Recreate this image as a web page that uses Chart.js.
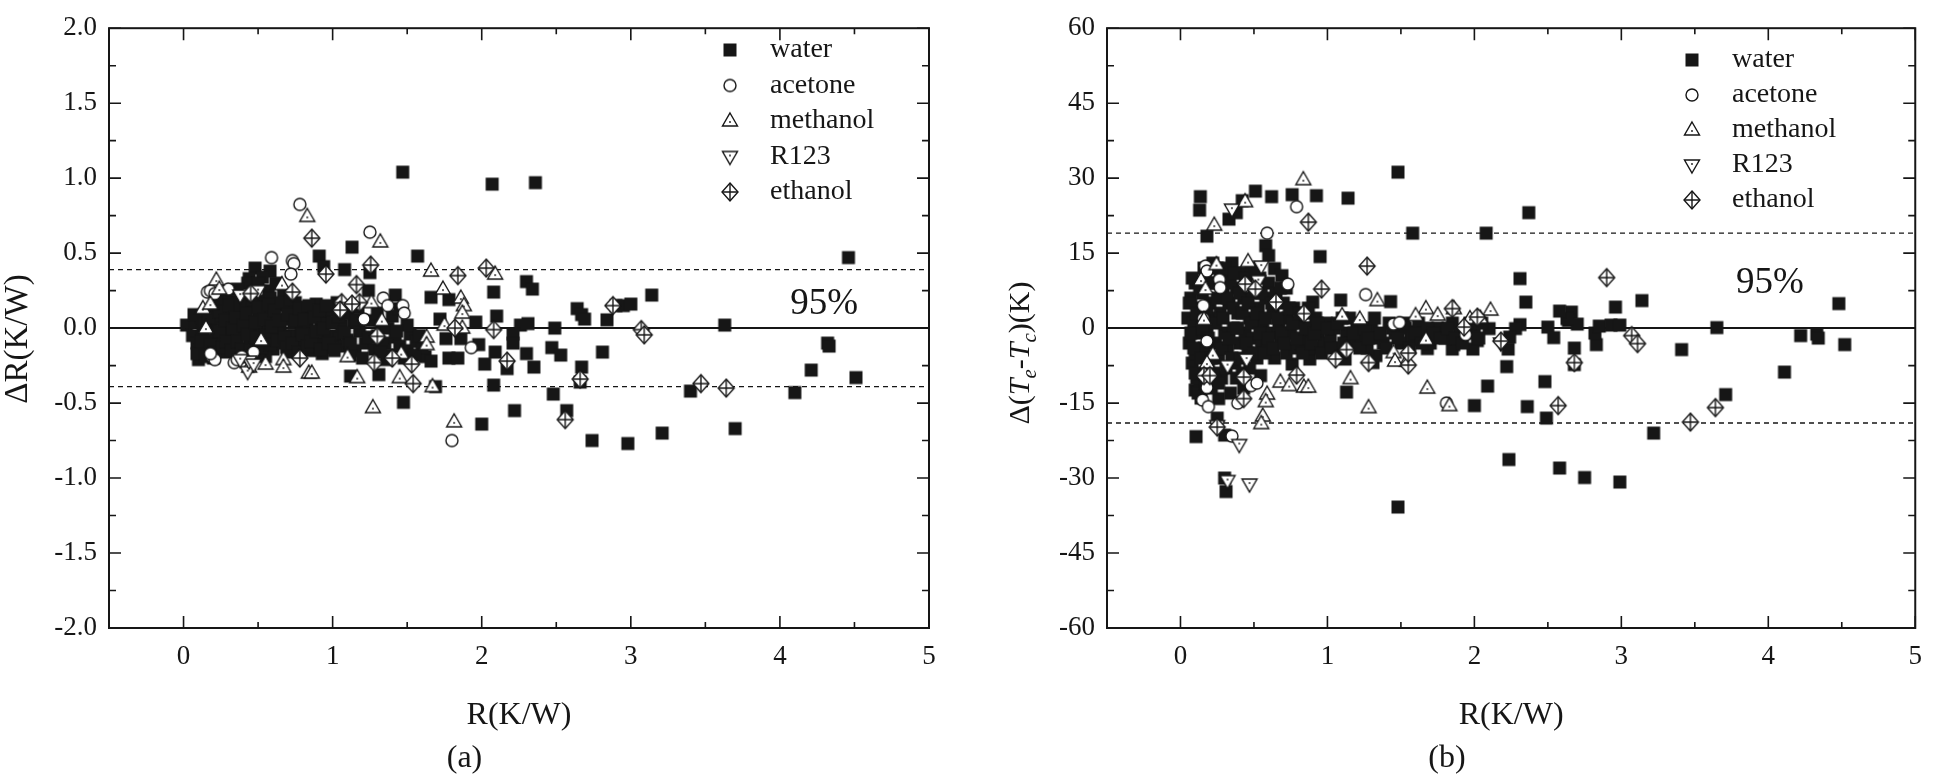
<!DOCTYPE html>
<html>
<head>
<meta charset="utf-8">
<script src="https://cdn.jsdelivr.net/npm/chart.js@4.4.1/dist/chart.umd.min.js"></script>
<style>
  html, body { margin: 0; padding: 0; background: #fff; }
  #wrap { position: relative; width: 1935px; height: 780px; }
  #wrap canvas { position: absolute; top: 0; }
</style>
</head>
<body>
<div id="wrap">
  <canvas id="chartA" width="968" height="780" style="left:0"></canvas>
  <canvas id="chartB" width="967" height="780" style="left:968px"></canvas>
</div>
<script>
const INK = '#161616';
const SERIF = "'Liberation Serif', 'Times New Roman', serif";

const seriesNames = ['water', 'acetone', 'methanol', 'R123', 'ethanol'];
const xTicks = [0, 1, 2, 3, 4, 5];
const yTicksA = [-2, -1.5, -1, -0.5, 0, 0.5, 1, 1.5, 2];
const yTicksB = [-60, -45, -30, -15, 0, 15, 30, 45, 60];
const bandA = 0.39;   // 95% limits, panel (a)
const bandB = 19;     // 95% limits, panel (b)

// ---- panel (a): delta R vs R ----
const waterA = [
  [1.47,1.04],[2.07,0.96],[2.36,0.97],[4.46,0.47],[1.13,0.54],[0.91,0.48],[1.57,0.48],
  [1.08,0.39],[0.94,0.41],[1.25,0.37],[0.48,0.40],[0.58,0.38],[0.53,0.34],[0.44,0.33],[0.57,0.25],
  [1.24,0.25],[1.42,0.22],[1.66,0.205],[1.78,0.19],[2.08,0.24],[2.30,0.31],[2.34,0.26],[3.14,0.22],
  [2.64,0.13],[2.67,0.09],[2.69,0.06],[2.84,0.055],[2.90,0.15],[2.95,0.15],[3.0,0.16],[2.10,0.08],
  [2.26,0.02],[2.31,0.03],[2.49,0.0],[3.63,0.02],[1.72,0.06],[1.96,0.04],[2.21,-0.04],[2.21,-0.10],
  [2.09,-0.16],[2.30,-0.17],[2.47,-0.13],[2.53,-0.18],[2.81,-0.16],[2.35,-0.26],[2.67,-0.26],[2.66,-0.36],
  [2.02,-0.24],[2.17,-0.27],[2.08,-0.38],[2.48,-0.44],[2.22,-0.55],[2.57,-0.55],[2.0,-0.64],[2.74,-0.75],
  [2.98,-0.77],[3.21,-0.70],[3.70,-0.67],[3.40,-0.42],[4.10,-0.43],[4.21,-0.28],[4.32,-0.10],[4.33,-0.12],
  [4.51,-0.33],[1.76,-0.07],[1.86,-0.07],[1.98,-0.11],[1.78,-0.20],[1.84,-0.20],[1.62,-0.19],[1.66,-0.22],
  [1.31,-0.31],[1.69,-0.39],[1.475,-0.495],[1.12,-0.32],
  [1.02,-0.05],[1.05,-0.12],[1.10,-0.08],[1.15,-0.15],[1.18,-0.02],[1.22,-0.10],[1.28,-0.14],[1.30,-0.05],
  [1.35,-0.10],[1.38,-0.18],[1.42,-0.06],[1.45,-0.12],[1.50,-0.15],[1.52,-0.04],[1.56,-0.09],[1.60,-0.13],
  [1.48,-0.20],[1.36,-0.21],[1.12,-0.18],[1.20,-0.20],[1.06,0.02],[1.14,0.04],[1.26,0.05],[1.33,0.02],
  [1.40,0.08],[1.50,0.02],[1.45,0.13],[1.30,0.10],[1.17,0.14],[1.10,0.10],[1.03,0.17],[1.55,-0.18],
  [0.02,0.02],[0.06,-0.05],[0.08,0.04],[0.09,-0.10],[0.10,-0.21],[0.11,-0.15],[0.12,0.08],[0.13,-0.02],
  [0.15,0.10],[0.16,-0.08],[0.18,0.02],[0.19,-0.14],[0.20,0.13],[0.22,-0.04],[0.23,0.06],[0.25,-0.10],
  [0.26,0.15],[0.27,0.00],[0.29,-0.16],[0.30,0.09],[0.31,-0.06],[0.33,0.18],[0.34,0.02],[0.35,-0.12],
  [0.37,0.12],[0.38,-0.03],[0.40,0.20],[0.41,0.05],[0.42,-0.15],[0.43,0.30],[0.44,-0.07],[0.45,0.14],
  [0.46,0.00],[0.47,0.24],[0.48,-0.11],[0.50,0.08],[0.51,-0.17],[0.52,0.18],[0.53,-0.02],[0.55,0.11],
  [0.56,-0.09],[0.57,0.04],[0.58,0.20],[0.60,-0.14],[0.61,0.07],[0.62,-0.04],[0.63,0.15],[0.65,0.00],
  [0.66,-0.10],[0.67,0.22],[0.69,0.06],[0.70,-0.16],[0.71,0.12],[0.72,-0.05],[0.74,0.03],[0.75,0.17],
  [0.76,-0.12],[0.78,0.08],[0.79,-0.02],[0.80,0.14],[0.82,-0.08],[0.83,0.04],[0.85,-0.15],[0.86,0.10],
  [0.87,-0.04],[0.89,0.16],[0.90,-0.10],[0.92,0.02],[0.93,-0.17],[0.95,0.08],[0.96,-0.06],[0.98,0.12],
  [0.99,-0.13],[0.36,0.26],[0.50,0.30],[0.62,0.30],[0.28,0.22],[0.55,-0.19],[0.88,-0.14],[0.40,-0.19],[0.20,-0.20],
  [0.07,0.09],[0.09,-0.17],[0.12,-0.09],[0.14,0.03],[0.15,-0.19],[0.17,0.07],[0.18,-0.11],[0.21,-0.16],
  [0.22,0.17],[0.24,-0.02],[0.24,0.11],[0.26,-0.13],[0.28,0.05],[0.29,-0.09],[0.31,0.15],[0.32,-0.15],
  [0.33,0.00],[0.35,0.07],[0.36,-0.09],[0.38,0.16],[0.39,-0.14],[0.40,0.02],[0.42,0.10],[0.43,-0.04],
  [0.45,-0.15],[0.46,0.19],[0.48,0.04],[0.49,-0.06],[0.50,0.14],[0.52,-0.13],[0.54,0.06],[0.55,-0.05],
  [0.57,0.16],[0.58,-0.11],[0.59,0.01],[0.61,0.12],[0.63,-0.08],[0.64,0.05],[0.66,0.17],[0.68,-0.06],
  [0.69,-0.13],[0.70,0.09],[0.72,0.19],[0.73,-0.10],[0.75,0.05],[0.77,-0.16],[0.78,0.13],[0.80,-0.04],
  [0.81,0.06],[0.83,-0.12],[0.84,0.15],[0.86,-0.09],[0.88,0.07],[0.89,-0.02],[0.91,0.12],[0.92,-0.14],
  [0.94,0.00],[0.96,0.15],[0.97,-0.10],[1.00,0.04],[1.01,-0.15],[1.04,0.08],[1.08,-0.03],[1.12,-0.10],
  [1.16,0.06],[1.24,-0.06],[1.32,-0.16],[1.37,0.00],[1.43,-0.02],[1.58,-0.05]
];
const acetoneA = [
  [0.78,0.825],[1.25,0.64],[0.59,0.47],[0.73,0.45],[0.74,0.43],[0.72,0.36],[1.80,-0.75],[1.93,-0.13],
  [1.34,0.20],[1.37,0.15],[1.47,0.15],[1.48,0.10],[1.21,0.06],[0.16,0.24],[0.18,0.25],[0.21,0.23],
  [0.19,-0.19],[0.21,-0.21],[0.18,-0.17],[0.34,-0.23],[0.36,-0.21],[0.39,-0.19],[0.47,-0.16],[0.30,0.26]
];
const methanolA = [
  [0.83,0.745],[1.32,0.575],[1.66,0.38],[2.09,0.36],[1.74,0.26],[1.86,0.20],[1.88,0.15],[1.87,0.10],
  [1.33,0.05],[1.75,0.02],[1.87,0.00],[1.26,0.17],[0.22,0.32],[0.24,0.26],[0.66,0.29],[0.13,0.13],
  [0.18,0.16],[0.15,0.00],[1.63,-0.06],[1.63,-0.11],[1.46,-0.17],[1.45,-0.33],[1.67,-0.39],[1.27,-0.53],
  [1.815,-0.625],[1.165,-0.33],[1.10,-0.19],[0.84,-0.30],[0.86,-0.30],[0.67,-0.21],[0.67,-0.26],[0.55,-0.24],
  [0.44,-0.26],[0.52,-0.08]
];
const r123A = [
  [0.43,-0.29],[0.44,-0.22],[0.47,-0.24],[0.50,0.25],[0.38,-0.21],[0.38,0.22]
];
const ethanolA = [
  [0.86,0.60],[2.03,0.40],[0.955,0.36],[1.255,0.42],[1.84,0.35],[1.16,0.29],[1.06,0.17],[1.05,0.12],
  [1.18,0.17],[1.13,0.16],[0.73,0.24],[0.45,0.23],[1.82,0.00],[2.08,-0.01],[3.07,-0.01],[3.09,-0.045],
  [2.17,-0.22],[1.53,-0.24],[1.54,-0.37],[1.28,-0.23],[1.40,-0.20],[1.30,-0.055],[0.78,-0.20],[2.66,-0.34],
  [3.47,-0.37],[3.64,-0.40],[2.56,-0.61],[2.88,0.15]
];

// ---- panel (b): delta (Te - Tc) vs R ----
const waterB = [
  [0.135,26.3],[0.13,23.6],[0.18,18.4],[0.33,21.8],[0.38,23.1],[0.42,25.5],[0.51,27.4],[0.62,26.3],
  [0.76,26.7],[0.925,26.5],[1.14,26.0],[1.48,31.2],[1.58,19.0],[2.08,19.0],[2.37,23.1],
  [0.58,16.5],[0.60,14.5],[0.64,11.9],[0.69,10.5],[0.72,8.0],[0.95,14.3],[1.43,5.3],[1.09,5.6],[0.90,5.2],
  [2.31,9.9],[2.35,5.2],[2.96,4.2],[3.14,5.5],[4.48,4.9],[3.65,0.1],[4.22,-1.5],[4.33,-1.2],[4.34,-2.0],
  [4.52,-3.3],[4.11,-8.8],[3.41,-4.3],[3.71,-13.3],[3.22,-21.0],[2.235,-26.3],[2.58,-28.0],[2.75,-29.9],
  [2.99,-30.8],[1.48,-35.8],[2.36,-15.7],[2.49,-18.0],[2.09,-11.6],[2.0,-15.5],[2.22,-7.7],[2.48,-10.7],
  [2.68,-4.0],[2.68,-7.3],[2.83,-3.3],[2.82,-1.0],[2.85,0.4],[2.93,0.6],[2.99,0.6],[2.66,3.2],[2.64,1.5],
  [2.70,0.8],[2.50,0.2],[2.54,-1.9],[2.23,-4.2],[2.31,0.7],[2.28,-0.1],[2.24,-1.8],[2.10,-0.1],[2.02,-2.5],
  [1.86,-3.3],[1.99,-4.2],[1.68,-4.1],[1.85,-4.2],[1.13,-12.8],[0.545,-9.5],[0.10,-12.4],[0.13,-11.0],
  [0.26,-14.1],[0.25,-18.0],[0.106,-21.7],[0.30,-21.4],[0.30,-30.0],[0.31,-32.7],[1.12,-6.2],[1.31,-6.9],
  [0.88,-6.2],[0.76,-7.2],[1.57,-0.7],[1.57,-2.3],[1.33,-5.5],[2.63,1.9],[2.58,3.4],
  [0.05,2],[0.06,-3],[0.07,6],[0.08,-7],[0.09,1],[0.10,9],[0.10,-5],[0.11,-10],[0.12,4],[0.13,-1],
  [0.14,-14],[0.15,7],[0.16,-4],[0.17,11],[0.18,0],[0.19,-8],[0.20,5],[0.21,-12],[0.22,2],[0.23,9],
  [0.24,-3],[0.25,12],[0.26,-6],[0.27,3],[0.28,-10],[0.29,7],[0.30,-1],[0.31,10],[0.32,-4],[0.33,5],
  [0.34,-13],[0.35,13],[0.36,0],[0.37,-7],[0.38,8],[0.39,3],[0.40,-3],[0.41,11],[0.42,-9],[0.43,6],
  [0.44,-1],[0.45,9],[0.46,-5],[0.47,2],[0.48,12],[0.49,-2],[0.50,7],[0.52,-6],[0.53,4],[0.54,10],
  [0.55,-3],[0.56,1],[0.58,6],[0.59,-4],[0.60,9],[0.61,-1],[0.63,3],[0.64,-6],[0.65,7],[0.67,0],
  [0.68,-3],[0.70,5],[0.72,-5],[0.73,2],[0.75,-1],[0.77,4],[0.78,-4],[0.80,1],[0.82,-3],[0.84,3],
  [0.86,-2],[0.88,0],[0.90,-4],[0.92,2],[0.94,-1],[0.97,-3],[0.99,1],[1.02,-2],[1.05,0],[1.08,-4],
  [1.10,2],[1.13,-1],[1.16,-3],[1.20,1],[1.23,-2],[1.27,-4],[1.30,0],[1.34,-2],[1.38,-3],[1.42,1],
  [1.46,-1],[1.50,-3],[1.53,0],[1.58,-2],[1.62,1],[1.66,-1],[1.70,-3],[1.75,0],[1.80,-2],[1.85,1],
  [1.90,-1],[1.95,0],[2.00,-1],[2.05,1],
  [0.06,5],[0.07,-1],[0.08,10],[0.09,-4],[0.10,-9],[0.11,3],[0.12,-13],[0.13,8],[0.14,-6],[0.15,0],
  [0.16,12],[0.17,-11],[0.18,4],[0.19,-2],[0.20,9],[0.21,-6],[0.22,13],[0.23,-9],[0.24,1],[0.25,6],
  [0.26,-11],[0.27,10],[0.28,-4],[0.29,2],[0.30,12],[0.31,-8],[0.32,6],[0.33,-2],[0.34,9],[0.35,-6],
  [0.36,4],[0.37,11],[0.38,-10],[0.39,0],[0.40,7],[0.41,-6],[0.42,3],[0.43,-12],[0.44,10],[0.45,-3],
  [0.46,5],[0.47,-8],[0.48,1],[0.50,-5],[0.51,11],[0.52,3],[0.54,-1],[0.55,7],[0.57,-5],[0.58,2],
  [0.60,-2],[0.62,5],[0.63,-4],[0.66,2],[0.68,8],[0.69,-1],[0.71,-3],[0.74,4],[0.76,1],[0.79,-2],
  [0.81,3],[0.83,-5],[0.85,0],[0.87,4],[0.89,-3],[0.91,-1],[0.93,1],[0.96,-5],[1.00,0],[1.03,-4],
  [1.07,1],[1.11,-3],[1.15,2],[1.18,-1],[1.22,-4],[1.25,0],[1.28,-2],[1.32,2],[1.36,-1],[1.40,-4],
  [1.44,0],[1.48,-2],[1.52,1],[1.56,-4],[1.60,-1],[1.64,-3],[1.68,0],[1.72,-1],[1.77,-2],[1.82,0],
  [1.87,-2],[1.92,-3],[1.97,1],[2.03,-2]
];
const acetoneB = [
  [0.79,24.3],[0.59,19.0],[0.17,12.4],[0.18,11.4],[0.265,9.7],[0.27,8.1],[0.155,4.5],[0.155,1.9],
  [0.18,-2.6],[0.73,8.8],[1.26,6.7],[1.45,0.8],[1.49,1.1],[1.94,-1.3],[1.81,-15.0],[0.48,-11.5],
  [0.52,-11.0],[0.39,-15.0],[0.15,-14.4],[0.19,-15.7],[0.18,-11.9],[0.35,-21.6]
];
const methanolB = [
  [0.836,29.7],[0.23,20.6],[0.44,25.3],[0.245,12.7],[0.46,13.3],[0.14,9.6],[0.17,7.8],[0.16,1.7],
  [0.22,-5.3],[0.18,-7.0],[1.34,5.5],[1.67,3.9],[1.75,2.6],[1.86,3.9],[1.97,1.9],[2.11,3.6],
  [1.67,-2.3],[1.45,-4.9],[1.54,-6.6],[1.46,-6.6],[1.68,-12.0],[1.83,-15.5],[1.28,-15.9],[1.157,-10.1],
  [0.68,-10.8],[0.59,-13.2],[0.58,-14.7],[0.56,-17.6],[0.55,-19.1],[0.84,-11.8],[0.87,-11.8],[0.74,-11.5],
  [1.10,2.5],[1.22,1.8],[1.60,2.5],[2.04,2.0]
];
const r123B = [
  [0.35,23.8],[0.55,12.4],[0.53,9.5],[0.45,-6.2],[0.32,-7.5],[0.40,-23.3],[0.32,-30.5],[0.47,-31.2],
  [0.25,-19.5],[2.18,-3.0]
];
const ethanolB = [
  [0.87,21.2],[1.27,12.4],[0.96,7.8],[0.84,2.9],[0.65,5.2],[0.44,8.8],[0.51,7.8],[0.79,-9.4],
  [0.43,-9.8],[0.43,-14.1],[0.25,-19.8],[0.16,-9.5],[0.20,-9.5],[1.13,-4.3],[1.055,-6.2],[1.28,-6.9],
  [1.55,-7.4],[1.55,-5.0],[1.85,3.9],[2.02,2.2],[1.93,0.2],[2.18,-2.6],[2.90,10.1],[3.07,-1.5],
  [3.11,-3.1],[2.68,-6.9],[2.57,-15.5],[3.47,-18.8],[3.64,-15.9]
];

// y titles, split where the style changes
const yTitleA = [
  { t: 'ΔR(K/W)', it: false, sub: false }
];
const yTitleB = [
  { t: 'Δ(', it: false, sub: false },
  { t: 'T', it: true, sub: false },
  { t: 'e', it: true, sub: true },
  { t: '-', it: false, sub: false },
  { t: 'T', it: true, sub: false },
  { t: 'c', it: true, sub: true },
  { t: ')(K)', it: false, sub: false }
];

// marker images
function marker(kind) {
  const c = document.createElement('canvas');
  c.width = 22; c.height = 22;
  const g = c.getContext('2d');
  g.translate(11, 11);
  g.lineWidth = 1.4;
  g.strokeStyle = INK;
  g.fillStyle = '#fff';
  if (kind === 'square') {
    g.fillStyle = INK;
    g.fillRect(-6.5, -6.5, 13, 13);
    return c;
  }
  g.beginPath();
  if (kind === 'circle') g.arc(0, 0, 6, 0, Math.PI * 2);
  if (kind === 'up') { g.moveTo(0, -8); g.lineTo(7.5, 5); g.lineTo(-7.5, 5); g.closePath(); }
  if (kind === 'down') { g.moveTo(0, 8); g.lineTo(7.5, -5); g.lineTo(-7.5, -5); g.closePath(); }
  if (kind === 'diamond') { g.moveTo(0, -9); g.lineTo(8, 0); g.lineTo(0, 9); g.lineTo(-8, 0); g.closePath(); }
  g.fill();
  g.stroke();
  if (kind === 'up' || kind === 'down') {
    g.fillStyle = INK;
    g.beginPath();
    g.arc(0, kind === 'up' ? 1 : -1, 0.9, 0, Math.PI * 2);
    g.fill();
  }
  if (kind === 'diamond') {
    g.beginPath();
    g.moveTo(0, -9); g.lineTo(0, 9);
    g.moveTo(-8, 0); g.lineTo(8, 0);
    g.stroke();
  }
  return c;
}
const markers = ['square', 'circle', 'up', 'down', 'diamond'].map(marker);

const mids = arr => arr.slice(1).map((v, i) => (arr[i] + v) / 2);

const framePlugin = {
  id: 'frame',
  afterDatasetsDraw(chart, args, o) {
    const { ctx, chartArea: a } = chart;
    const xs = chart.scales.x, ys = chart.scales.y;
    ctx.save();
    ctx.strokeStyle = INK;
    ctx.lineWidth = 1.6;
    ctx.beginPath();
    const xt = (vals, len) => vals.forEach(v => {
      const p = xs.getPixelForValue(v);
      ctx.moveTo(p, a.bottom); ctx.lineTo(p, a.bottom - len);
      ctx.moveTo(p, a.top); ctx.lineTo(p, a.top + len);
    });
    const yt = (vals, len) => vals.forEach(v => {
      const p = ys.getPixelForValue(v);
      ctx.moveTo(a.left, p); ctx.lineTo(a.left + len, p);
      ctx.moveTo(a.right, p); ctx.lineTo(a.right - len, p);
    });
    xt(xTicks, 12); xt(mids(xTicks), 6);
    yt(o.yTicks, 12); yt(mids(o.yTicks), 7);
    ctx.stroke();
    ctx.lineWidth = 2;
    ctx.strokeRect(a.left, a.top, a.right - a.left, a.bottom - a.top);

    // legend
    ctx.fillStyle = INK;
    ctx.font = '28px ' + SERIF;
    ctx.textBaseline = 'middle';
    ctx.textAlign = 'left';
    seriesNames.forEach((name, i) => {
      const y = o.legend.y0 + i * o.legend.dy;
      ctx.drawImage(markers[i], o.legend.mx - 11, y - 11);
      ctx.fillText(name, o.legend.tx, y);
    });

    // 95% note
    ctx.font = '37px ' + SERIF;
    ctx.textBaseline = 'alphabetic';
    ctx.fillText('95%', xs.getPixelForValue(o.note.x), ys.getPixelForValue(o.note.y));

    // rotated y title
    const t = o.yTitle;
    ctx.translate(t.x, t.y);
    ctx.rotate(-Math.PI / 2);
    const fontOf = s => (s.it ? 'italic ' : '') + (s.sub ? '21px ' : t.size + 'px ') + SERIF;
    let total = 0;
    t.segs.forEach(s => { ctx.font = fontOf(s); total += ctx.measureText(s.t).width; });
    let x = -total / 2;
    t.segs.forEach(s => {
      ctx.font = fontOf(s);
      ctx.fillText(s.t, x, s.sub ? 17 : 10);
      x += ctx.measureText(s.t).width;
    });
    ctx.restore();
  }
};

function limitLine(y, dashed) {
  return {
    data: [{ x: -0.5, y: y }, { x: 5, y: y }],
    showLine: true,
    borderColor: INK,
    borderWidth: dashed ? 1.4 : 2,
    borderDash: dashed ? [5, 4] : [],
    pointRadius: 0,
    order: 10
  };
}

function makePanel(p) {
  const sets = p.series.map((arr, i) => ({
    label: seriesNames[i],
    data: arr.map(d => ({ x: d[0], y: d[1] })),
    pointStyle: markers[i],
    pointRadius: 7,
    order: 5 - i
  }));
  sets.push(limitLine(0, false), limitLine(p.band, true), limitLine(-p.band, true));

  return new Chart(document.getElementById(p.id), {
    type: 'scatter',
    data: { datasets: sets },
    options: {
      responsive: false,
      animation: false,
      devicePixelRatio: 1,
      events: [],
      layout: { padding: { left: 0, top: 15, right: p.padRight, bottom: 0 } },
      plugins: {
        legend: { display: false },
        tooltip: { enabled: false },
        title: {
          display: true, position: 'bottom', text: p.tag, color: INK,
          font: { family: SERIF, size: 32, weight: 'normal' },
          padding: { top: 0, bottom: 2 }
        },
        frame: { yTicks: p.yTicks, legend: p.legend, note: p.note, yTitle: p.yTitle }
      },
      scales: {
        x: {
          type: 'linear', min: -0.5, max: 5,
          grid: { display: false, drawTicks: false },
          border: { display: false },
          afterBuildTicks: s => { s.ticks = xTicks.map(v => ({ value: v })); },
          afterFit: s => { s.height = 111.6; },
          ticks: {
            color: INK, padding: 13, autoSkip: false, maxRotation: 0,
            font: { family: SERIF, size: 27 },
            callback: v => String(v)
          },
          title: {
            display: true, text: 'R(K/W)', color: INK,
            font: { family: SERIF, size: 32 },
            padding: { top: 0, bottom: 4.4 }
          }
        },
        y: {
          type: 'linear', min: p.yTicks[0], max: p.yTicks[p.yTicks.length - 1],
          grid: { display: false, drawTicks: false },
          border: { display: false },
          afterBuildTicks: s => { s.ticks = p.yTicks.map(v => ({ value: v })); },
          afterFit: s => { s.width = p.yWidth; },
          ticks: {
            color: INK, padding: 12, autoSkip: false,
            font: { family: SERIF, size: 27 },
            callback: p.yFmt
          }
        }
      }
    },
    plugins: [framePlugin]
  });
}

makePanel({
  id: 'chartA', yTicks: yTicksA, yFmt: v => v.toFixed(1), band: bandA,
  tag: '(a)', padRight: 39, yWidth: 109,
  legend: { mx: 730, tx: 770, y0: 50, dy: 35.5 },
  note: { x: 4.07, y: 0.095 },
  yTitle: { x: 17, y: 339, size: 33, segs: yTitleA },
  series: [waterA, acetoneA, methanolA, r123A, ethanolA]
});

makePanel({
  id: 'chartB', yTicks: yTicksB, yFmt: v => String(v), band: bandB,
  tag: '(b)', padRight: 9, yWidth: 139,
  legend: { mx: 724, tx: 764, y0: 60, dy: 35 },
  note: { x: 3.78, y: 7.0 },
  yTitle: { x: 51, y: 353, size: 30, segs: yTitleB },
  series: [waterB, acetoneB, methanolB, r123B, ethanolB]
});
</script>
</body>
</html>
